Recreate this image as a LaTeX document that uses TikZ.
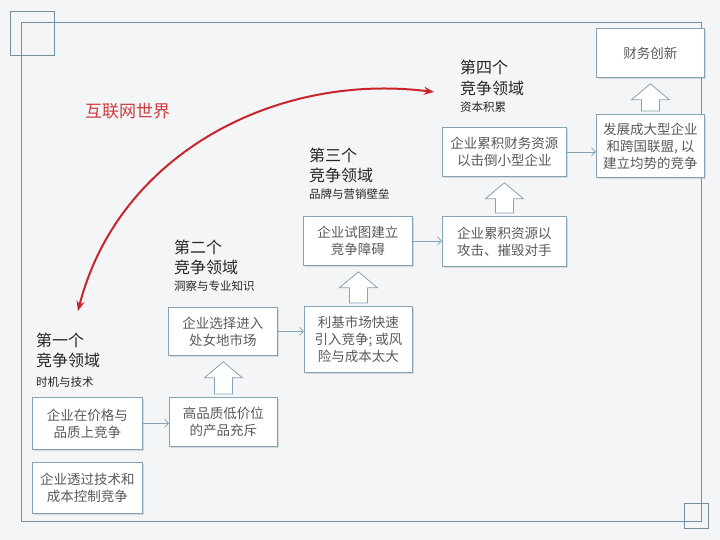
\documentclass[tikz,border=0pt]{standalone}
\usepackage{fontspec}
\setmainfont{Noto Sans CJK SC}
\newfontfamily\cjk{Noto Sans CJK SC}
\usetikzlibrary{arrows.meta,calc,shadows}
\definecolor{frameline}{HTML}{7390A2}
\definecolor{boxline}{HTML}{86A2B6}
\definecolor{boxtext}{HTML}{5A5A5A}
\definecolor{arcred}{HTML}{C8262C}
\definecolor{bgpaper}{HTML}{F4F5F6}
\tikzset{
  frame/.style={draw=frameline, line width=0.9pt},
  box/.style={draw=boxline, fill=white, line width=0.8pt, anchor=north west,
    inner sep=0pt, align=center, text=boxtext, font=\cjk\fontsize{13.5}{17}\selectfont,
    drop shadow={shadow xshift=1.5pt, shadow yshift=-1.5pt, opacity=0.25, fill=gray}},
  conn/.style={draw=boxline, line width=0.7pt, -{Straight Barb[length=4pt,width=8pt]}},
  blk/.style={draw=boxline, fill=white, line width=0.8pt, line join=miter},
  head/.style={anchor=west, inner sep=0pt, text=black!85, font=\cjk\fontsize{16}{18}\selectfont},
  sub/.style={anchor=west, inner sep=0pt, text=black!85, font=\cjk\fontsize{11.5}{13}\selectfont},
  redarc/.style={draw=arcred, line width=2pt,
    {Stealth[length=10pt,width=8pt]}-{Stealth[length=10pt,width=8pt]}}
}
\newcommand{\blockup}[2]{%
  \draw[blk] let \p1=(#1.north), \p2=(#2.south) in
    (\x1-9pt,\y1+3pt) -- (\x1-9pt,\y2-22pt) -- (\x1-19pt,\y2-22pt) -- (\x1,\y2-6pt)
    -- (\x1+19pt,\y2-22pt) -- (\x1+9pt,\y2-22pt) -- (\x1+9pt,\y1+3pt) -- cycle;}
\newcommand{\boxat}[6]{% name, left, top, right, bottom, text
  \node[box, minimum width=#4pt-#2pt, minimum height=#5pt-#3pt] (#1) at (#2,#3) {#6};}
\begin{document}
\begin{tikzpicture}[x=1pt,y=-1pt]
\useasboundingbox (0,0) rectangle (720,540);
\fill[bgpaper] (0,0) rectangle (720,540);
% frame
\draw[frame] (21.5,22.5) rectangle (701,521);
\draw[frame] (10,11) rectangle (54,55);
\draw[frame] (684,503) rectangle (708,528);
% boxes
\boxat{b1}{32}{397}{142}{449}{企业在价格与\\品质上竞争}
\boxat{b2}{32}{462}{142}{513}{企业透过技术和\\成本控制竞争}
\boxat{b3}{169}{397}{277}{446}{高品质低价位\\的产品充斥}
\boxat{b4}{168}{307}{277}{355}{企业选择进入\\处女地市场}
\boxat{b5}{304}{306}{412}{372}{利基市场快速\\引入竞争; 或风\\险与成本太大}
\boxat{b6}{303}{216}{412}{265}{企业试图建立\\竞争障碍}
\boxat{b7}{442}{216}{566}{266}{企业累积资源以\\攻击、摧毁对手}
\boxat{b8}{442}{127}{566}{176}{企业累积财务资源\\以击倒小型企业}
\boxat{b9}{596}{114}{704}{177}{发展成大型企业\\和跨国联盟, 以\\建立均势的竞争}
\boxat{b10}{596}{28}{704}{77}{财务创新}
% thin connectors
\draw[conn] (b1.east) -- (b1.east -| b3.west);
\draw[conn] (b4.east) -- (b4.east -| b5.west);
\draw[conn] (b6.east) -- (b6.east -| b7.west);
\draw[conn] (b8.east) -- (b8.east -| b9.west);
% block arrows
\blockup{b3}{b4}
\blockup{b5}{b6}
\blockup{b7}{b8}
\blockup{b9}{b10}
% headings
\node[head] (h1a) at (36,340) {第一个};
\node[head] (h1b) at (36,360) {竞争领域};
\node[sub]  (h1c) at (36,382) {时机与技术};
\node[head] (h2a) at (174,247) {第二个};
\node[head] (h2b) at (174,267) {竞争领域};
\node[sub]  (h2c) at (174,286) {洞察与专业知识};
\node[head] (h3a) at (309,155) {第三个};
\node[head] (h3b) at (309,175) {竞争领域};
\node[sub]  (h3c) at (309,194) {品牌与营销壁垒};
\node[head] (h4a) at (460,67) {第四个};
\node[head] (h4b) at (460,88) {竞争领域};
\node[sub]  (h4c) at (460,107) {资本积累};
% internet world arc
\node[anchor=west, inner sep=0pt, text=arcred!90, font=\cjk\fontsize{17}{19}\selectfont] (web) at (85,111) {互联网世界};
\coordinate (arcS) at (78,311);
\coordinate (arcE) at (434,92);
\draw[redarc] (arcS) .. controls (118,155) and (275,72) .. (arcE);
\end{tikzpicture}
\end{document}
